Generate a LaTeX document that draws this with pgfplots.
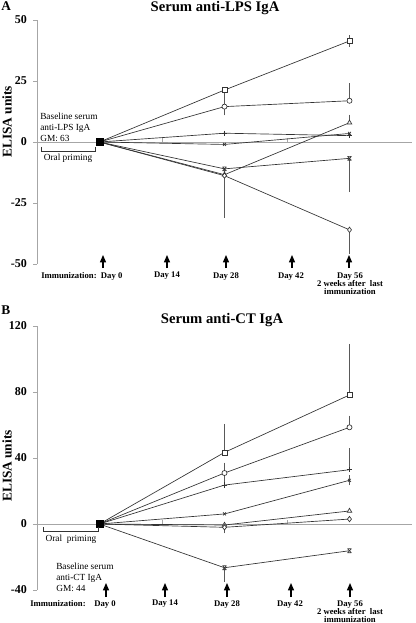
\documentclass[border=0pt]{standalone}
\usepackage{fontspec}
\setmainfont{Liberation Serif}
\usepackage{pgfplots}
\usepackage{pgfplotstable}
\pgfplotsset{compat=1.18}
\usetikzlibrary{arrows.meta}

\pgfdeclareplotmark{hourglass}{%
  \pgfpathmoveto{\pgfqpoint{-\pgfplotmarksize}{-\pgfplotmarksize}}%
  \pgfpathlineto{\pgfqpoint{\pgfplotmarksize}{\pgfplotmarksize}}%
  \pgfpathmoveto{\pgfqpoint{-\pgfplotmarksize}{\pgfplotmarksize}}%
  \pgfpathlineto{\pgfqpoint{\pgfplotmarksize}{-\pgfplotmarksize}}%
  \pgfpathmoveto{\pgfqpoint{-\pgfplotmarksize}{\pgfplotmarksize}}%
  \pgfpathlineto{\pgfqpoint{\pgfplotmarksize}{\pgfplotmarksize}}%
  \pgfpathmoveto{\pgfqpoint{-\pgfplotmarksize}{-\pgfplotmarksize}}%
  \pgfpathlineto{\pgfqpoint{\pgfplotmarksize}{-\pgfplotmarksize}}%
  \pgfusepathqstroke}

\pgfplotstableread{
x  sq   ci   pl   xx   tr    as    di
0  0    0    0    0    0     0     0
28 21.3 14.5 3.6  -1   -13.4 -11   -13.8
56 41.4 16.9 2.6  3.5  7.9   -6.7  -36
}\Adata
\pgfplotstableread{
x  y     e
56 41.4  1.3
56 16.9  6.1
56 7.9   2.2
}\Aplus
\pgfplotstableread{
x  y     e
28 21.3  6
56 41.4  1.3
28 14.5  2.5
28 -11   14
56 -6.7  12.7
28 -13.8 16.1
56 -36   8.7
}\Aminus
\pgfplotstableread{
x  sq   ci   pl   xx   tr    as    di
0  0    0    0    0    0     0     0
28 43.4 30.9 23.6 6.1  -0.6  -26.5 -2
56 78.2 58.6 32.9 26.5 7.9   -16.2 3.0
}\Bdata
\pgfplotstableread{
x  y     e
28 43.4  15.6
56 78.2  29.3
28 30.9  4.7
56 58.6  5.4
56 32.9  11.5
56 26.5  1.5
}\Bplus
\pgfplotstableread{
x  y     e
28 30.9  7.3
28 -26.5 7
28 -2    2
56 26.5  1.5
}\Bminus
\pgfplotstableread{
x y
0 0
}\Origin

\pgfplotsset{
  panel/.style={
    scale only axis, width=281.25pt,
    xmin=-14, xmax=70,
    axis y line=left, axis x line=middle,
    axis line style={black!35,-},
    xtick={14,42}, xticklabels={},
    xtick align=inside,
    ytick align=outside,
    major tick length=3pt,
    tick style={black!35},
    /pgf/number format/assume math mode=true,
    yticklabel style={font=\bfseries\fontsize{9}{10}\selectfont, xshift=-1pt},
    every axis plot/.append style={line width=0.5pt, black!80},
  },
  ser/.style={mark size=#1, mark options={solid, fill=white, line width=0.5pt}},
  ser/.default=1.9pt,
  errp/.style={draw=none, mark=none, forget plot,
    error bars/.cd, y dir=plus, y explicit,
    error bar style={black!65, line width=0.5pt},
    error mark options={black!65, mark size=2pt, line width=0.5pt}},
  errm/.style={draw=none, mark=none, forget plot,
    error bars/.cd, y dir=minus, y explicit,
    error bar style={black!65, line width=0.5pt},
    error mark options={black!65, mark size=2pt, line width=0.5pt}},
}

\begin{document}
\begin{tikzpicture}
\path[use as bounding box] (0,0) rectangle (312pt,-467.25pt);

% ---------------- Panel A ----------------
\begin{axis}[panel, at={(27.75pt,-198pt)}, anchor=south west,
  height=183pt, ymin=-50, ymax=50,
  ytick={-50,-25,0,25,50}, yticklabels={-50,-25,0,25,50}]
\addplot[errp] table[x=x,y=y,y error=e] {\Aplus};
\addplot[errm] table[x=x,y=y,y error=e] {\Aminus};
\addplot[ser, mark=square*] table[x=x,y=sq] {\Adata};
\addplot[ser, mark=*] table[x=x,y=ci] {\Adata};
\addplot[ser=2pt, mark=+] table[x=x,y=pl] {\Adata};
\addplot[ser=1.6pt, mark=x] table[x=x,y=xx] {\Adata};
\addplot[ser=2pt, mark=triangle*] table[x=x,y=tr] {\Adata};
\addplot[ser=1.5pt, mark=hourglass] table[x=x,y=as] {\Adata};
\addplot[ser=2pt, mark=diamond*] table[x=x,y=di] {\Adata};
\addplot[only marks, mark=square*, mark size=2.6pt, black] table[x=x,y=y] {\Origin};
\end{axis}

% ---------------- Panel B ----------------
\begin{axis}[panel, at={(27.75pt,-442.5pt)}, anchor=south west,
  height=198pt, ymin=-40, ymax=120,
  ytick={-40,0,40,80,120}, yticklabels={-40,0,40,80,120}]
\addplot[errp] table[x=x,y=y,y error=e] {\Bplus};
\addplot[errm] table[x=x,y=y,y error=e] {\Bminus};
\addplot[ser, mark=square*] table[x=x,y=sq] {\Bdata};
\addplot[ser, mark=*] table[x=x,y=ci] {\Bdata};
\addplot[ser=2pt, mark=+] table[x=x,y=pl] {\Bdata};
\addplot[ser=1.6pt, mark=x] table[x=x,y=xx] {\Bdata};
\addplot[ser=2pt, mark=triangle*] table[x=x,y=tr] {\Bdata};
\addplot[ser=1.5pt, mark=hourglass] table[x=x,y=as] {\Bdata};
\addplot[ser=2pt, mark=diamond*] table[x=x,y=di] {\Bdata};
\addplot[only marks, mark=square*, mark size=2.6pt, black] table[x=x,y=y] {\Origin};
\end{axis}

% ---------------- Annotations (pixel coordinates) ----------------
\begin{scope}[x=0.75pt, y=-0.75pt]
\tikzset{
  ttl/.style={font=\bfseries\fontsize{11}{13}\selectfont},
  yl/.style={font=\bfseries\fontsize{10}{12}\selectfont, rotate=90},
  sm/.style={font=\fontsize{7}{8}\selectfont, align=left, inner sep=0pt},
  dl/.style={font=\bfseries\fontsize{6.5}{6}\selectfont, align=center, inner sep=0pt, anchor=north},
  arr/.style={-{Triangle[width=4.5pt,length=5.5pt]}, line width=0.9pt, black},
}
% panel A
\node[font=\bfseries\fontsize{10}{12}\selectfont, anchor=north west, inner sep=0pt] at (1,1) {A};
\node[ttl] at (215,8) {Serum anti-LPS IgA};
\node[yl] at (7,122) {ELISA units};
\node[sm, anchor=north west] at (40,113) {Baseline serum\\anti-LPS IgA\\GM: 63};
\draw[black!80, line width=0.5pt] (41,147) -- (41,151) -- (95,151) -- (95,147);
\node[sm, anchor=north] at (68,154) {Oral priming};
\foreach \xx in {103,167,226,292,349} \draw[arr] (\xx,268) -- (\xx,255);
\node[dl, anchor=north west] at (41,272) {Immunization:\, Day 0};
\node[dl] at (167,272) {Day 14};
\node[dl] at (226,272) {Day 28};
\node[dl] at (291,272) {Day 42};
\node[dl] at (350,272) {Day 56\\2 weeks after\ \ last\\immunization};
% panel B
\node[font=\bfseries\fontsize{10}{12}\selectfont, anchor=north west, inner sep=0pt] at (1,306) {B};
\node[ttl] at (222,320) {Serum anti-CT IgA};
\node[yl] at (7,466) {ELISA units};
\node[sm, anchor=north west] at (56,563) {Baseline serum\\anti-CT IgA\\GM: 44};
\draw[black!80, line width=0.5pt] (43,527) -- (43,531) -- (98,531) -- (98,527);
\node[sm, anchor=north] at (71,535) {Oral\ \ priming};
\foreach \xx in {106,165,227,291,350} \draw[arr] (\xx,597) -- (\xx,583);
\node[dl, anchor=north west] at (30,600) {Immunization:};
\node[dl] at (105,600) {Day 0};
\node[dl] at (165,600) {Day 14};
\node[dl] at (227,600) {Day 28};
\node[dl] at (290,600) {Day 42};
\node[dl] at (350,600) {Day 56\\2 weeks after\ \ last\\immunization};
\end{scope}
\end{tikzpicture}
\end{document}
